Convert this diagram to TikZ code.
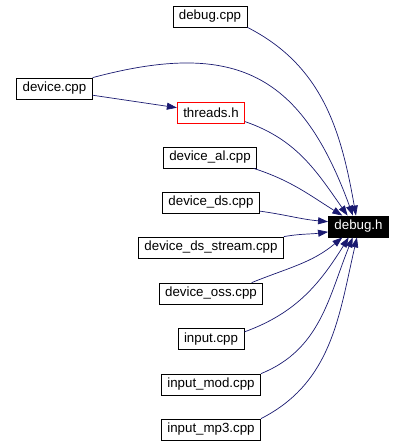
\documentclass[tikz,border=0pt]{standalone}
\usepackage{fontspec}
\setmainfont{Liberation Sans}
\usepackage{tikz}
\usetikzlibrary{arrows.meta}
\definecolor{azulnoite}{RGB}{25,25,112}
\definecolor{vermelho}{RGB}{255,0,0}

\begin{document}
\begin{tikzpicture}[x=1pt, y=1pt,
    caixa/.style={draw=black, fill=white, font=\fontsize{13.3}{16}\selectfont, minimum height=21pt, inner xsep=6pt, inner ysep=0pt, line width=0.8pt},
    caixaR/.style={caixa, draw=vermelho},
    caixaH/.style={caixa, fill=black, text=white},
    seta/.style={-{Triangle[length=10pt, width=7pt]}, line width=0.7pt, azulnoite}
  ]
    \useasboundingbox (0,0) rectangle (404,-447);

    \node[caixa] (debugcpp) at (210,-16.5) {debug.cpp};
    \node[caixa] (devicecpp) at (54.5,-88.5) {device.cpp};
    \node[caixaR] (threadsh) at (211,-112.5) {threads.h};
    \node[caixa] (deviceal) at (210,-157.5) {device\_al.cpp};
    \node[caixa] (deviceds) at (211,-202.5) {device\_ds.cpp};
    \node[caixa] (devicedsstream) at (211,-247.5) {device\_ds\_stream.cpp};
    \node[caixa] (deviceoss) at (211,-293.5) {device\_oss.cpp};
    \node[caixa] (inputcpp) at (211,-339) {input.cpp};
    \node[caixa] (inputmod) at (211,-384.5) {input\_mod.cpp};
    \node[caixa] (inputmp3) at (211,-429.5) {input\_mp3.cpp};
    \node[caixaH] (debugh) at (358.5,-226.5) {debug.h};

    \draw[seta] (devicecpp.-10) -- (threadsh.172);
    \draw[seta] (debugcpp.south east) to[out=-27, in=100] (debugh.103);
    \draw[seta] (devicecpp.north east) to[out=15, in=110, looseness=1.3] (debugh.117);
    \draw[seta] (threadsh.-15) to[out=-19, in=125] (debugh.135);
    \draw[seta] (deviceal.-14) to[out=-18, in=148] (debugh.146);
    \draw[seta] (deviceds.-10) to[out=-8, in=175] (debugh.171);
    \draw[seta] (devicedsstream.north east) to[out=10, in=-172] (debugh.190);
    \draw[seta] (deviceoss.15) to[out=22, in=-140] (debugh.-146);
    \draw[seta] (inputcpp.12) to[out=20, in=-122] (debugh.-132);
    \draw[seta] (inputmod.north east) to[out=22, in=-112] (debugh.-118);
    \draw[seta] (inputmp3.north east) to[out=27, in=-103] (debugh.-98);
\end{tikzpicture}
\end{document}
